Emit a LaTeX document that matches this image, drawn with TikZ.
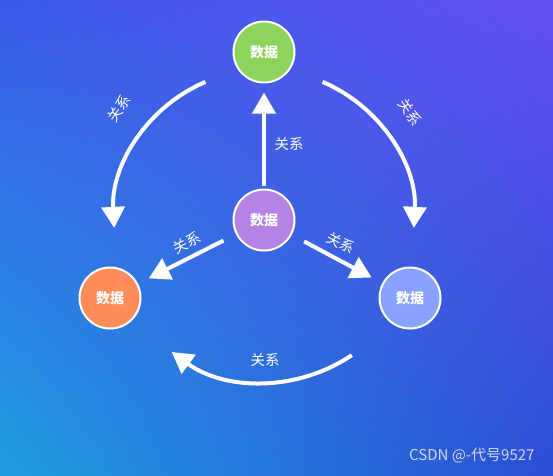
\documentclass[tikz,border=0pt]{standalone}
\usepackage{fontspec}
\newfontfamily\cjk{Noto Sans CJK SC}
\usetikzlibrary{arrows.meta,shadings}
\definecolor{bgUL}{HTML}{3B5AE8}
\definecolor{bgUR}{HTML}{6450F0}
\definecolor{bgLL}{HTML}{1E9DE0}
\definecolor{bgLR}{HTML}{2A4ED4}
\definecolor{cgreen}{HTML}{8CD45C}
\definecolor{cpurple}{HTML}{B582E6}
\definecolor{corange}{HTML}{FF8C5A}
\definecolor{cblue}{HTML}{8AA2FF}
\definecolor{wm}{HTML}{D0D8EC}
\tikzset{
  datanode/.style={circle, draw=white, line width=2pt, minimum size=61pt, inner sep=0pt,
    text=white, font=\cjk\bfseries\fontsize{14pt}{16pt}\selectfont},
  rel/.style={white, line width=4pt, -{Triangle[length=21pt,width=23pt]}},
  rellabel/.style={text=white, font=\cjk\fontsize{14.5pt}{16pt}\selectfont, inner sep=1pt}
}
\begin{document}
\begin{tikzpicture}[x=1pt,y=-1pt]
\shade[upper left=bgUL, upper right=bgUR, lower left=bgLL, lower right=bgLR] (0,0) rectangle (553,475);
\useasboundingbox (0,0) rectangle (553,475);

\node[datanode, fill=cgreen] (top) at (264,52) {数据};
\node[datanode, fill=cpurple] (mid) at (264,220) {数据};
\node[datanode, fill=corange] (left) at (110,298) {数据};
\node[datanode, fill=cblue] (right) at (410,298) {数据};

\draw[rel, shorten <=3pt, shorten >=9pt] (mid) -- (top);
\draw[rel, shorten <=14pt, shorten >=12pt] (mid) -- (left);
\draw[rel, shorten <=14pt, shorten >=12pt] (mid) -- (right);

\coordinate (ac) at (264,220);
\coordinate (bc) at (264,225);
\draw[rel] ([shift={(-113:150)}]ac) arc[start angle=-113, end angle=-183, radius=150];
\draw[rel] ([shift={(-67:150)}]ac) arc[start angle=-67, end angle=3, radius=150];
\draw[rel] ([shift={(56:157)}]bc) arc[start angle=56, end angle=126, radius=157];

\node[rellabel] (l1) at (289,144) {关系};
\node[rellabel, rotate=27] (l2) at (187,243) {关系};
\node[rellabel, rotate=-27] (l3) at (341,243) {关系};
\node[rellabel, rotate=55] (l4) at (119,108) {关系};
\node[rellabel, rotate=-55] (l5) at (410,112) {关系};
\node[rellabel] (l6) at (265,360) {关系};

\node[text=wm, font=\cjk\fontsize{15pt}{17pt}\selectfont, anchor=east] (wmark) at (538,456) {CSDN @-代号9527};
\end{tikzpicture}
\end{document}
